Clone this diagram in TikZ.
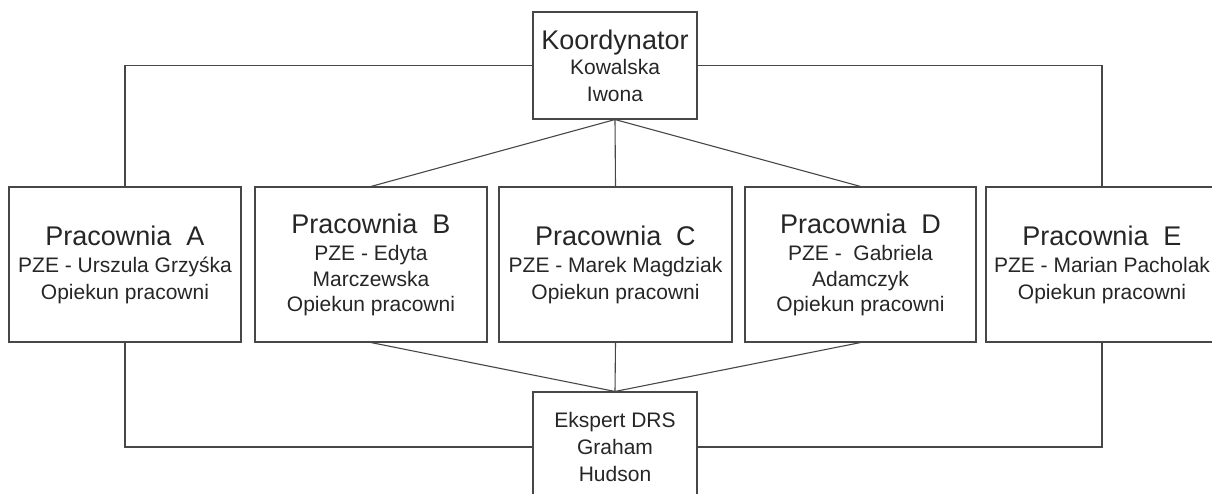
\documentclass[tikz,border=0pt]{standalone}
\usepackage{fontspec}
\setmainfont{Liberation Sans}
\newcommand{\bigline}[1]{{\fontsize{27}{30}\selectfont #1}}
\begin{document}
\begin{tikzpicture}[x=1pt,y=-1pt,
  box/.style={draw=black!72, line width=1.1pt, fill=white, rectangle, inner sep=0pt,
    align=center, font=\fontsize{21}{27}\selectfont, text=black!85},
  conn/.style={draw=black!72, line width=1.1pt}]
\useasboundingbox (0,0) rectangle (1212,494);
\node[box, minimum width=164pt, minimum height=107pt] (K) at (615,65.5)
  {\bigline{Koordynator}\\[-2pt] Kowalska\\ Iwona};
\node[box, minimum width=164pt, minimum height=110pt] (X) at (615,447)
  {Ekspert DRS\\ Graham\\ Hudson};
\node[box, minimum width=232pt, minimum height=155pt] (A) at (125,264.5)
  {\bigline{Pracownia\ \ A}\\ PZE - Urszula Grzyśka\\ Opiekun pracowni};
\node[box, minimum width=232pt, minimum height=155pt] (B) at (371,264.5)
  {\bigline{Pracownia\ \ B}\\ PZE - Edyta\\[-1pt] Marczewska\\[-2pt] Opiekun pracowni};
\node[box, minimum width=233pt, minimum height=155pt] (C) at (615.5,264.5)
  {\bigline{Pracownia\ \ C}\\ PZE - Marek Magdziak\\ Opiekun pracowni};
\node[box, minimum width=231pt, minimum height=155pt] (D) at (860.5,264.5)
  {\bigline{Pracownia\ \ D}\\ PZE -\ \ Gabriela\\[-1pt] Adamczyk\\[-2pt] Opiekun pracowni};
\node[box, minimum width=232pt, minimum height=155pt] (E) at (1102,264.5)
  {\bigline{Pracownia\ \ E}\\ PZE - Marian Pacholak\\ Opiekun pracowni};
\draw[conn] (K.west) -| (A.north);
\draw[conn] (K.east) -| (E.north);
\draw[conn] (K.south) -- (B.north);
\draw[conn] (K.south) -- (C.north);
\draw[conn] (K.south) -- (D.north);
\draw[conn] (B.south) -- (X.north);
\draw[conn] (C.south) -- (X.north);
\draw[conn] (D.south) -- (X.north);
\draw[conn] (A.south) |- (X.west);
\draw[conn] (E.south) |- (X.east);
\end{tikzpicture}
\end{document}
